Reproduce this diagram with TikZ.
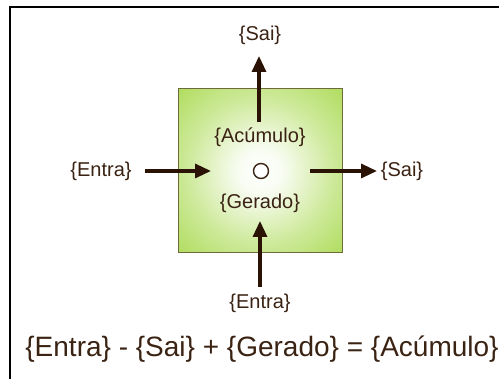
\documentclass[tikz,border=0pt]{standalone}
\usepackage{fontspec}
\setmainfont{Liberation Sans}
\usetikzlibrary{arrows.meta}
\definecolor{boxgreen}{HTML}{A6D84A}
\definecolor{boxedge}{HTML}{6E6A3A}
\definecolor{txtbrown}{HTML}{3B2314}
\definecolor{arrbrown}{HTML}{2A1205}
\pgfdeclareradialshading{glow}{\pgfpoint{0bp}{0bp}}{color(0bp)=(white); color(7bp)=(white!92!boxgreen); color(22bp)=(white!45!boxgreen); color(40bp)=(boxgreen); color(50bp)=(boxgreen)}
\tikzset{
  lbl/.style={text=txtbrown, font=\fontsize{20}{22}\selectfont, inner sep=0pt},
  eqn/.style={text=txtbrown, font=\fontsize{28}{30}\selectfont, inner sep=0pt},
  flow/.style={draw=arrbrown, line width=3.2pt, -{Triangle[length=16pt,width=14pt]}},
}
\begin{document}
\begin{tikzpicture}[x=1pt,y=-1pt]
\useasboundingbox (0,0) rectangle (499,379);
\fill[white] (0,0) rectangle (499,379);
% frame (right and bottom edges lie outside)
\draw[black, line width=2pt] (9.5,385) -- (9.5,7.5) -- (505,7.5);
% control volume
\shade[shading=glow] (178,89) rectangle (342,253);
\node[draw=boxedge, line width=1pt, minimum width=164pt, minimum height=164pt, inner sep=0pt] (box) at (260,171) {};
\node[circle, draw=txtbrown, fill=white, line width=1.4pt, minimum size=15pt, inner sep=0pt] (c) at (261,171) {};
% labels
\node[lbl] (acum) at (260,137) {\{Acúmulo\}};
\node[lbl] (ger) at (260,203) {\{Gerado\}};
\node[lbl] (saiT) at (260,35) {\{Sai\}};
\node[lbl] (entL) at (101,171) {\{Entra\}};
\node[lbl] (saiR) at (402,171) {\{Sai\}};
\node[lbl] (entB) at (260,303) {\{Entra\}};
% arrow ends
\coordinate (tS) at (259,122); \coordinate (tE) at (259,56);
\coordinate (lS) at (145,171); \coordinate (lE) at (211,171);
\coordinate (rS) at (310,171); \coordinate (rE) at (377,171);
\coordinate (bS) at (260,287); \coordinate (bE) at (260,221);
\draw[flow] (tS) -- (tE);
\draw[flow] (lS) -- (lE);
\draw[flow] (rS) -- (rE);
\draw[flow] (bS) -- (bE);
% balance equation
\node[eqn] (eq) at (262,349) {\{Entra\} - \{Sai\} + \{Gerado\} = \{Acúmulo\}};
\end{tikzpicture}
\end{document}
